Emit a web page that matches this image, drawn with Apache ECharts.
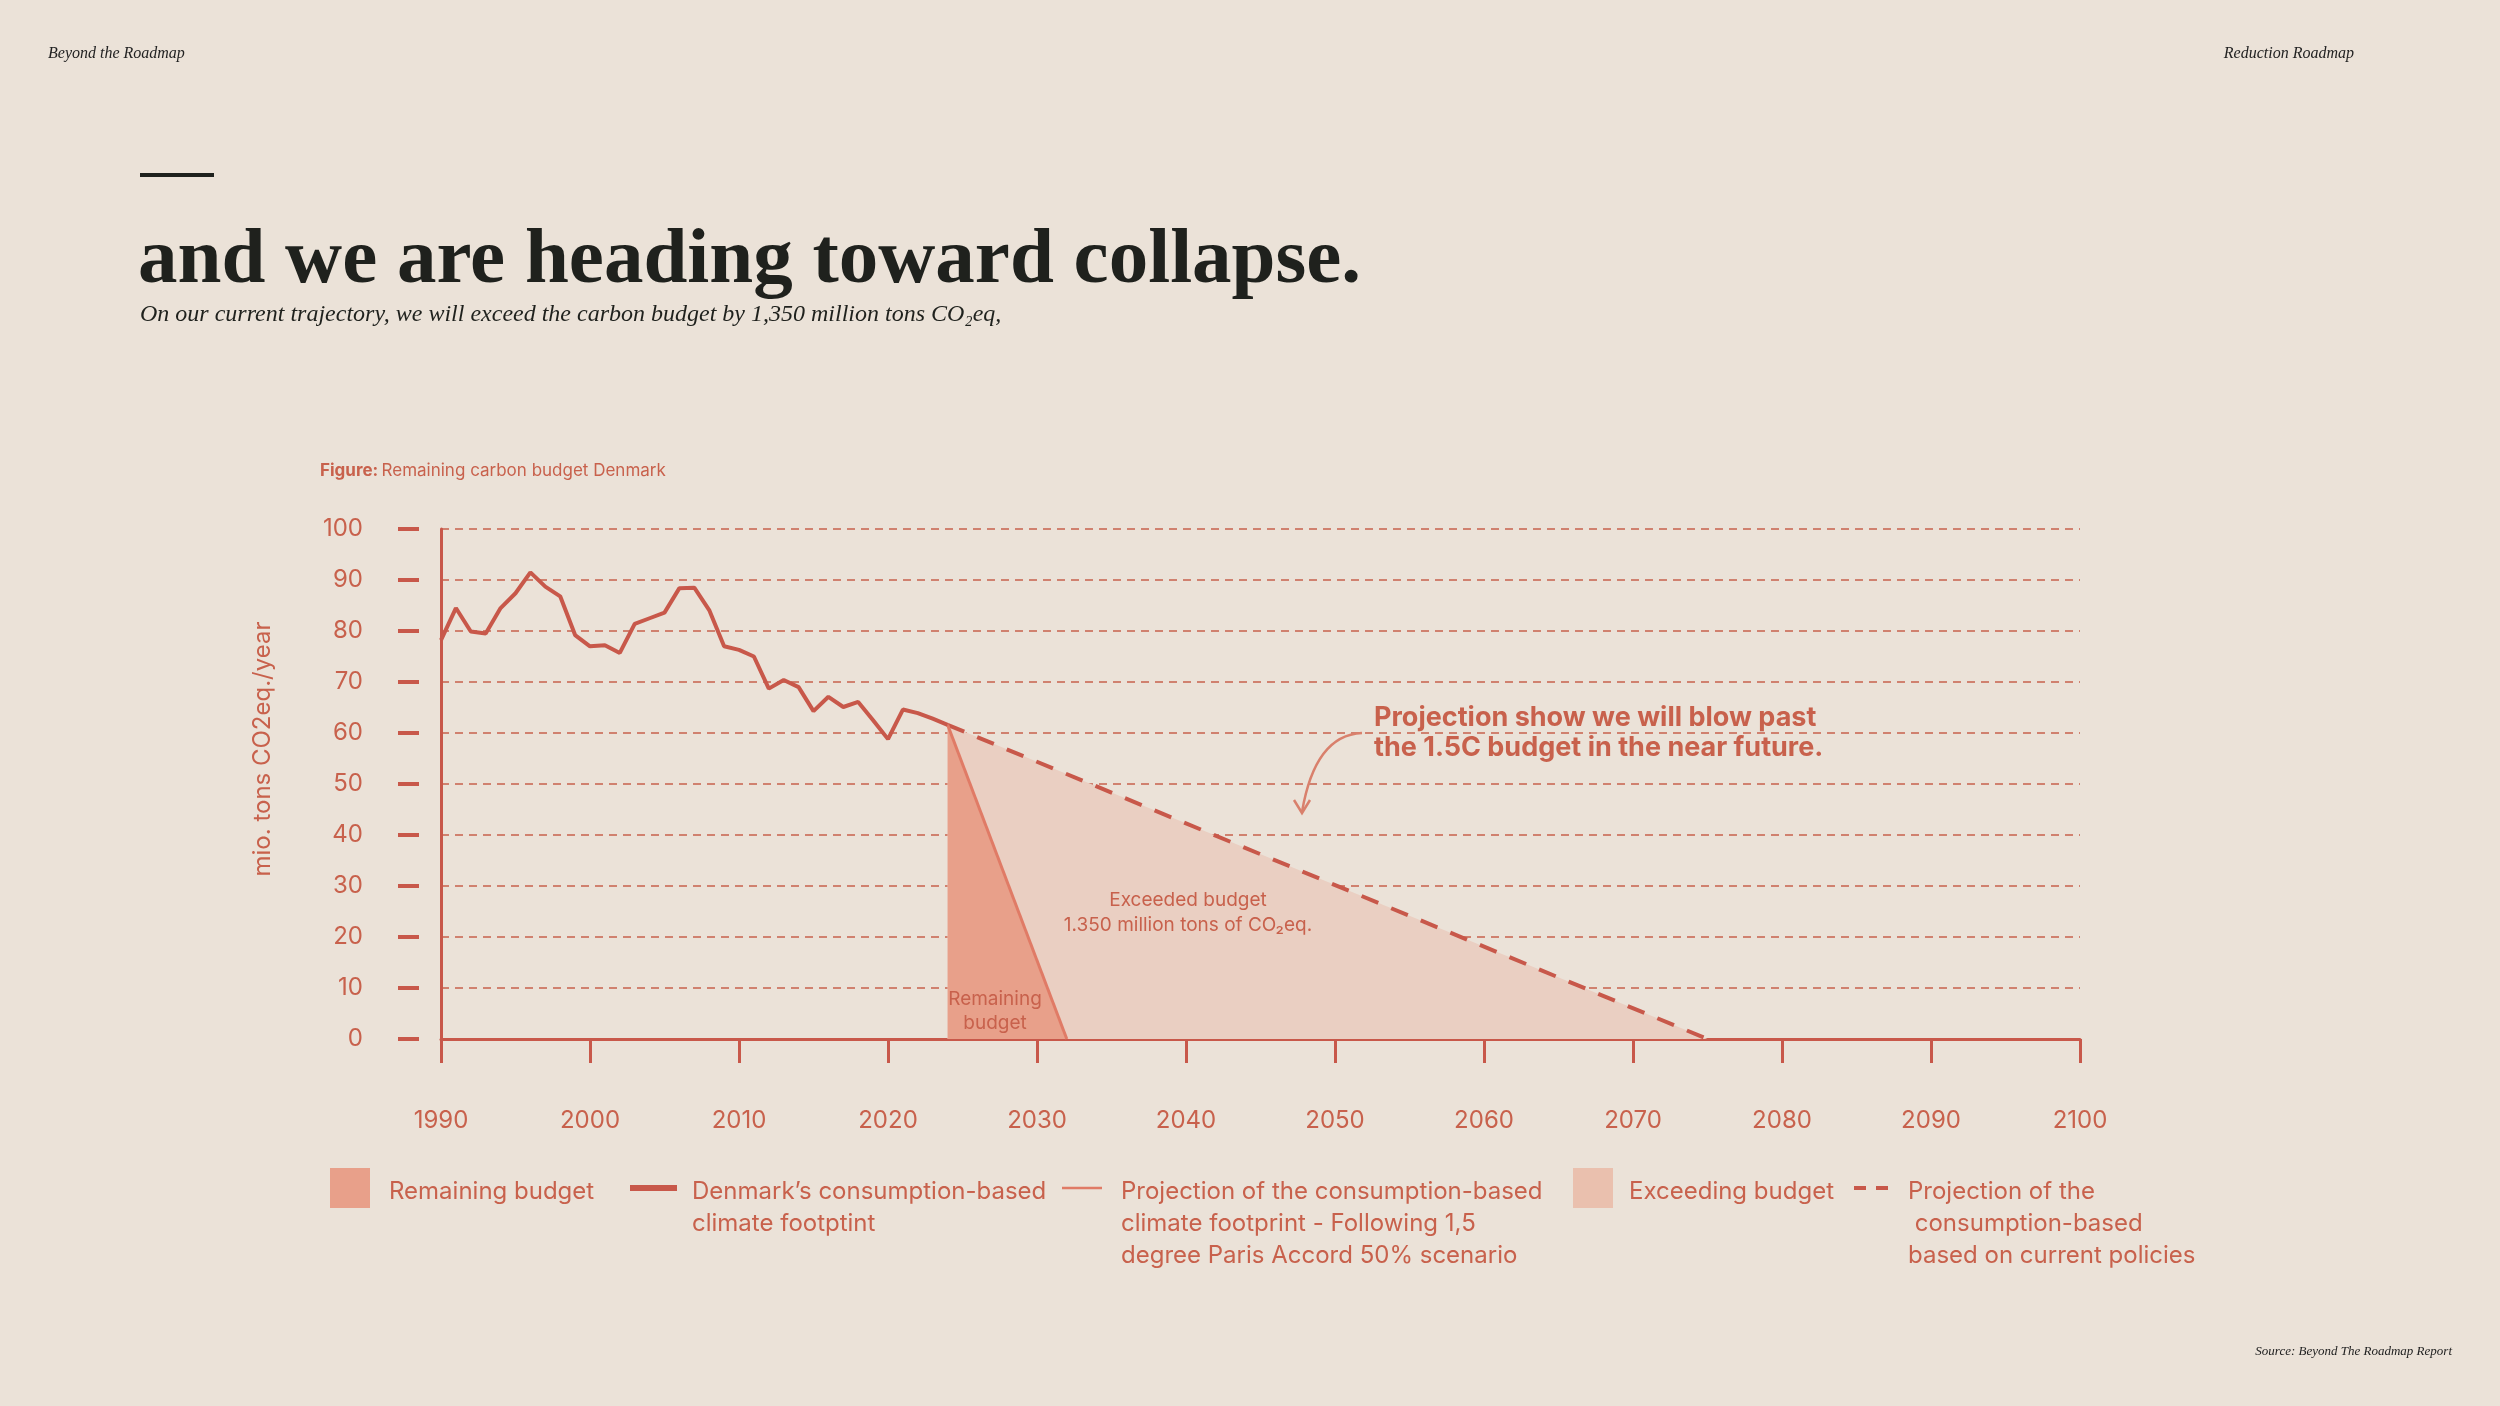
<!DOCTYPE html>
<html><head><meta charset="utf-8">
<script src="https://cdn.jsdelivr.net/npm/echarts@6/dist/echarts.min.js"></script>
<style>html,body{margin:0;padding:0;background:#EBE2D8}#c{width:2500px;height:1406px}</style>
</head><body><div id="c"></div>
<script>
const years = [1990,1991,1992,1993,1994,1995,1996,1997,1998,1999,2000,2001,2002,2003,2004,2005,2006,2007,2008,2009,2010,2011,2012,2013,2014,2015,2016,2017,2018,2019,2020,2021,2022,2023,2024];
const footprint = [78.2,84.5,79.9,79.5,84.5,87.4,91.5,88.7,86.8,79.2,77.0,77.2,75.7,81.4,82.5,83.6,88.4,88.5,84.1,77.0,76.3,75.0,68.7,70.4,69.0,64.3,67.1,65.1,66.1,62.5,58.8,64.6,63.9,62.8,61.6];
const parisYears = [2024,2032];
const parisValues = [61.6,0];
const policyYears = [2024,2075];
const policyValues = [61.6,0];

const RED='#C8584A', TXT='#C8614C';
const chart = echarts.init(document.getElementById('c'));
const zip=(a,b)=>a.map((x,i)=>[x,b[i]]);
const sans='Inter, "Noto Sans", sans-serif';
const legendText=(x,y,t)=>({type:'text',left:x,top:y,style:{text:t,fill:TXT,font:'400 24px '+sans,lineHeight:32}});
chart.setOption({
  backgroundColor:'#EBE2D8',
  animation:false,
  grid:{left:441,right:420,top:529,bottom:367},
  xAxis:[
    {type:'value',min:1990,max:2100,interval:10,axisLine:{lineStyle:{color:RED,width:3}},axisTick:{show:false},splitLine:{show:false},
     axisLabel:{color:TXT,fontSize:24,fontFamily:sans,margin:70,formatter:v=>String(v)}},
    {type:'value',min:1990,max:2100,interval:10,position:'bottom',offset:21,axisLine:{show:false},axisTick:{show:true,length:24,lineStyle:{color:RED,width:3}},axisLabel:{show:false},splitLine:{show:false}}
  ],
  yAxis:[
    {type:'value',min:0,max:100,interval:10,axisLine:{show:true,lineStyle:{color:RED,width:3}},axisTick:{show:false},
     splitLine:{lineStyle:{color:TXT,type:[8,6],width:1.5}},axisLabel:{color:TXT,fontSize:24,fontFamily:sans,margin:78}},
    {type:'value',min:0,max:100,interval:10,position:'left',offset:22,axisLine:{show:false},axisTick:{show:true,length:21,lineStyle:{color:RED,width:4}},axisLabel:{show:false},splitLine:{show:false}}
  ],
  series:[
    {type:'line',data:zip(policyYears,policyValues),symbol:'none',lineStyle:{color:RED,width:4,type:[18,14]},areaStyle:{color:'#EACFC2',opacity:1},z:2},
    {type:'line',data:zip(parisYears,parisValues),symbol:'none',lineStyle:{color:'#E07B66',width:3},areaStyle:{color:'#E8A08A',opacity:1},z:3},
    {type:'line',data:zip(years,footprint),symbol:'none',lineStyle:{color:RED,width:4},z:4}
  ],
  graphic:[
    {type:'text',left:48,top:46,style:{text:'Beyond the Roadmap',fill:'#222',font:'italic 16px "Liberation Serif", serif'}},
    {type:'text',right:146,top:46,style:{text:'Reduction Roadmap',fill:'#222',font:'italic 16px "Liberation Serif", serif'}},
    {type:'text',right:48,top:1345,style:{text:'Source: Beyond The Roadmap Report',fill:'#222',font:'italic 13px "Liberation Serif", serif'}},
    {type:'rect',shape:{x:140,y:173,width:74,height:4},style:{fill:'#1f211d'}},
    {type:'text',left:138,top:222,style:{text:'and we are heading toward collapse.',fill:'#1f211d',font:'bold 79px "Liberation Serif", serif'}},
    {type:'text',left:140,top:303,style:{text:'On our current trajectory, we will exceed the carbon budget by 1,350 million tons CO₂eq,',fill:'#1f211d',font:'italic 24px "Liberation Serif", serif'}},
    {type:'text',left:320,top:462,style:{rich:{b:{fill:TXT,font:'bold 17px '+sans},n:{fill:TXT,font:'17px '+sans}},text:'{b|Figure:} {n|Remaining carbon budget Denmark}'}},
    {type:'text',x:263,y:749,rotation:Math.PI/2,style:{text:'mio. tons CO2eq./year',fill:TXT,font:'24px '+sans,align:'center',verticalAlign:'middle'}},
    {type:'text',left:1374,top:703,z:10,style:{text:'Projection show we will blow past\nthe 1.5C budget in the near future.',fill:TXT,font:'bold 27px '+sans,lineHeight:30}},
    {type:'bezierCurve',z:10,shape:{x1:1362,y1:733,cpx1:1315,cpy1:735,x2:1302,y2:812},style:{stroke:'#D9806C',lineWidth:2.5,fill:null}},
    {type:'polyline',z:10,shape:{points:[[1294,800],[1302,813],[1310,800]]},style:{stroke:'#D9806C',lineWidth:2.5,fill:null}},
    {type:'text',x:1188,y:913,z:10,style:{text:'Exceeded budget\n1.350 million tons of CO₂eq.',fill:TXT,font:'19px '+sans,align:'center',verticalAlign:'middle',lineHeight:25}},
    {type:'text',x:995,y:1011,z:10,style:{text:'Remaining\nbudget',fill:TXT,font:'19px '+sans,align:'center',verticalAlign:'middle',lineHeight:24}},
    {type:'rect',shape:{x:330,y:1168,width:40,height:40},style:{fill:'#E8A08A'}},
    legendText(389,1176,'Remaining budget'),
    {type:'line',shape:{x1:630,y1:1188,x2:677,y2:1188},style:{stroke:RED,lineWidth:6}},
    legendText(692,1176,'Denmark’s consumption-based\nclimate footptint'),
    {type:'line',shape:{x1:1062,y1:1188,x2:1102,y2:1188},style:{stroke:'#E07B66',lineWidth:2.5}},
    legendText(1121,1176,'Projection of the consumption-based\nclimate footprint - Following 1,5\ndegree Paris Accord 50% scenario'),
    {type:'rect',shape:{x:1573,y:1168,width:40,height:40},style:{fill:'#EAC0AE'}},
    legendText(1629,1176,'Exceeding budget'),
    {type:'line',shape:{x1:1854,y1:1188,x2:1894,y2:1188},style:{stroke:RED,lineWidth:4,lineDash:[12,10]}},
    legendText(1908,1176,'Projection of the\n consumption-based\nbased on current policies')
  ]
});
</script></body></html>
